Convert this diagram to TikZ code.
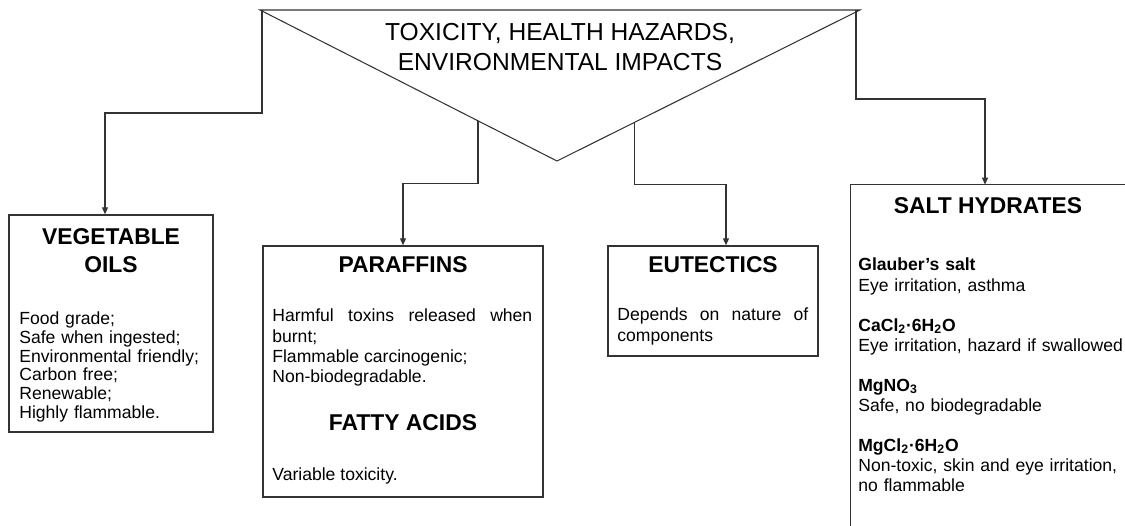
\documentclass[tikz,border=0pt]{standalone}
\usepackage{fontspec}
\setmainfont{Liberation Sans}
\usepackage{tikz}
\usetikzlibrary{positioning,arrows.meta,fit,calc}
\definecolor{ink}{HTML}{333333}
\hyphenpenalty=10000

\begin{document}
\begin{tikzpicture}[
  x=0.02cm,y=-0.02cm,
  b/.style={draw=ink,line width=0.75pt,inner sep=0pt},
  hd/.style={font=\fontsize{13}{16}\selectfont\bfseries,align=center,inner sep=0pt},
  tx/.style={font=\fontsize{10}{11.4}\selectfont,anchor=base west,inner sep=0pt},
  a/.style={-{Triangle[length=4pt,width=3.4pt]},line width=0.6pt,ink}
]
\useasboundingbox (0,0) rectangle (1125,526);
\coordinate (tl) at (260,10); \coordinate (tr) at (860,10); \coordinate (tb) at (557,161);
\draw[ink,line width=0.6pt] (tl) -- (tr) -- (tb) -- cycle;
\node[align=center,font=\fontsize{14}{17}\selectfont,inner sep=0pt] (title) at (560,47) {TOXICITY, HEALTH HAZARDS,\\ENVIRONMENTAL IMPACTS};
\node[b,fit={(9,215) (213,432)}] (veg) {};
\node[b,fit={(263,246) (543,497)}] (par) {};
\node[b,fit={(608,246) (818,356)}] (eut) {};
\node[inner sep=0pt,fit={(851,185) (1125,526)}] (salt) {};
\draw[ink,line width=0.75pt] (salt.south west) -- (salt.north west) -- (salt.north east);
\node[hd] (vegh) at (111,251) {VEGETABLE\\OILS};
\node[hd] (parh) at (403,265) {PARAFFINS};
\node[hd] (fath) at (403,423) {FATTY ACIDS};
\node[hd] (euth) at (713,265) {EUTECTICS};
\node[hd] (salth) at (988,206) {SALT HYDRATES};
\node[tx,text width=3.9cm,align=left,font=\fontsize{10}{10.6}\selectfont] (vegt) at (19,325) {Food grade;\\Safe when ingested;\\Environmental friendly;\\Carbon free;\\Renewable;\\Highly flammable.};
\node[tx,text width=5.2cm,align=justify] (part) at (272,322) {Harmful toxins released when burnt;\\Flammable carcinogenic;\\Non-biodegradable.};
\node[tx] (fatt) at (272,480) {Variable toxicity.};
\node[tx,text width=3.82cm,align=justify] (eutt) at (617,321) {Depends on nature of components};
\node[tx,text width=5.3cm,align=left] (saltt) at (858,271) {\textbf{Glauber’s salt}\\Eye irritation, asthma\\[11.4pt]
  \textbf{CaCl\textsubscript{2}·6H\textsubscript{2}O}\\Eye irritation, hazard if swallowed\\[11.4pt]
  \textbf{MgNO\textsubscript{3}}\\Safe, no biodegradable\\[11.4pt]
  \textbf{MgCl\textsubscript{2}·6H\textsubscript{2}O}\\Non-toxic, skin and eye irritation,\\no flammable};
\draw[a] ([xshift=0.04cm]tl) -- ++(0,103) -| ([xshift=-0.12cm]veg.north);
\draw[a] ($(tl)!0.734!(tb)$) -- ++(0,63) -| (par.north);
\draw[a] ($(tb)!0.257!(tr)$) -- ++(0,62) -| ([xshift=0.26cm]eut.north);
\draw[a] ([xshift=-0.08cm]tr) -- ++(0,89) -| ([xshift=-0.06cm]salt.north);
\end{tikzpicture}
\end{document}
